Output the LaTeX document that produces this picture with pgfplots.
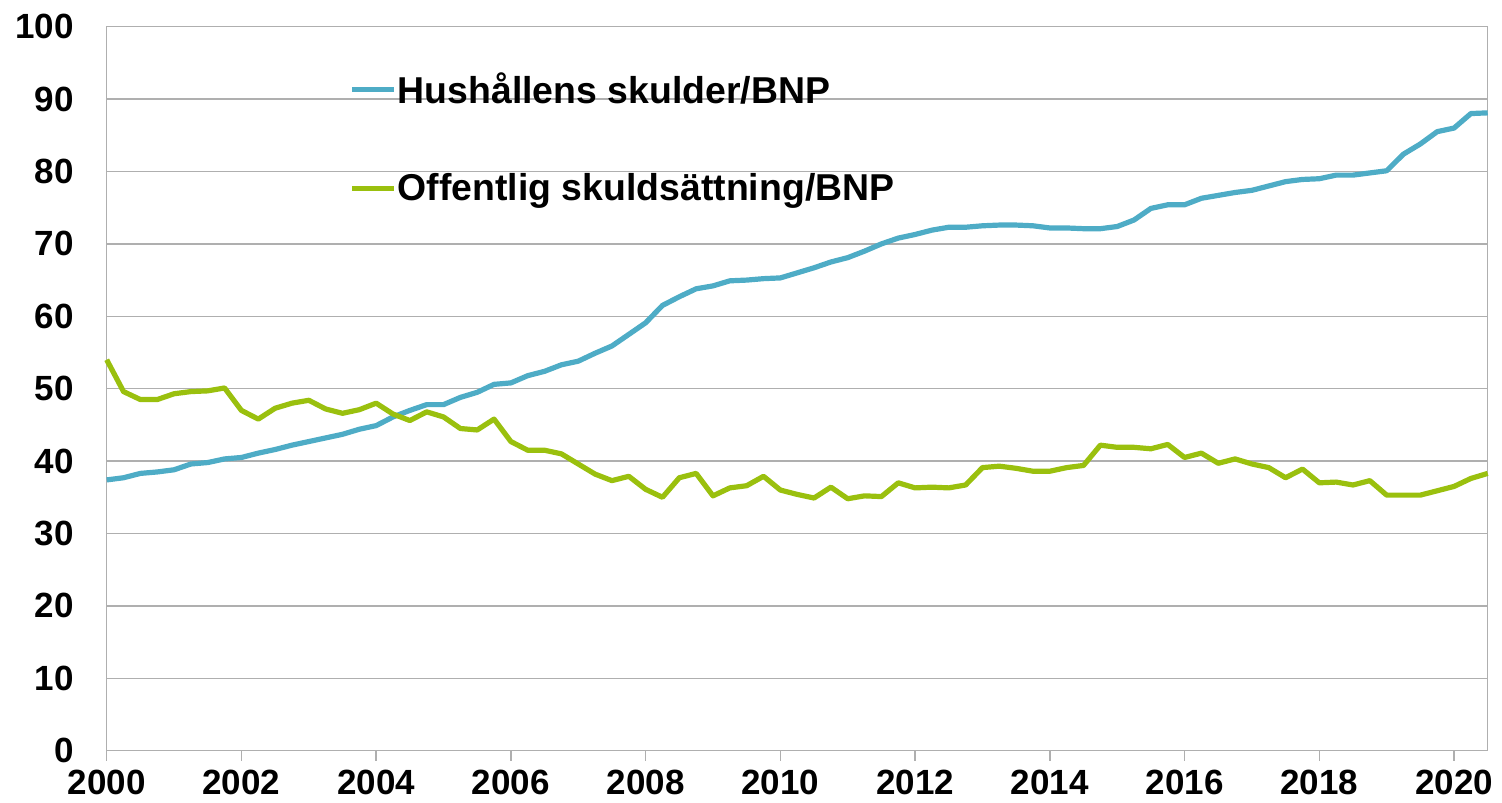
\documentclass[border=0pt]{standalone}
\usepackage{pgfplots}
\pgfplotsset{compat=1.18}
\usepackage{pgfplotstable}
\usepackage{fontspec}
\setmainfont{Liberation Sans}
\definecolor{hhblue}{RGB}{78,172,198}
\definecolor{offgreen}{RGB}{154,192,14}
\definecolor{gridgray}{RGB}{175,175,175}
\pgfplotstableread{
x hh off
2000.00 37.4 54.0
2000.25 37.7 49.6
2000.50 38.3 48.5
2000.75 38.5 48.5
2001.00 38.8 49.3
2001.25 39.6 49.6
2001.50 39.8 49.7
2001.75 40.3 50.1
2002.00 40.5 47.0
2002.25 41.1 45.8
2002.50 41.6 47.3
2002.75 42.2 48.0
2003.00 42.7 48.4
2003.25 43.2 47.2
2003.50 43.7 46.6
2003.75 44.4 47.1
2004.00 44.9 48.0
2004.25 46.1 46.5
2004.50 47.0 45.6
2004.75 47.8 46.8
2005.00 47.8 46.1
2005.25 48.8 44.5
2005.50 49.5 44.3
2005.75 50.6 45.8
2006.00 50.8 42.7
2006.25 51.8 41.5
2006.50 52.4 41.5
2006.75 53.3 41.0
2007.00 53.8 39.6
2007.25 54.9 38.2
2007.50 55.9 37.3
2007.75 57.5 37.9
2008.00 59.1 36.1
2008.25 61.5 35.0
2008.50 62.7 37.7
2008.75 63.8 38.3
2009.00 64.2 35.2
2009.25 64.9 36.3
2009.50 65.0 36.6
2009.75 65.2 37.9
2010.00 65.3 36.0
2010.25 66.0 35.4
2010.50 66.7 34.9
2010.75 67.5 36.4
2011.00 68.1 34.8
2011.25 69.0 35.2
2011.50 70.0 35.1
2011.75 70.8 37.0
2012.00 71.3 36.3
2012.25 71.9 36.4
2012.50 72.3 36.3
2012.75 72.3 36.7
2013.00 72.5 39.1
2013.25 72.6 39.3
2013.50 72.6 39.0
2013.75 72.5 38.6
2014.00 72.2 38.6
2014.25 72.2 39.1
2014.50 72.1 39.4
2014.75 72.1 42.2
2015.00 72.4 41.9
2015.25 73.3 41.9
2015.50 74.9 41.7
2015.75 75.4 42.3
2016.00 75.4 40.5
2016.25 76.3 41.1
2016.50 76.7 39.7
2016.75 77.1 40.3
2017.00 77.4 39.6
2017.25 78.0 39.1
2017.50 78.6 37.7
2017.75 78.9 38.9
2018.00 79.0 37.0
2018.25 79.5 37.1
2018.50 79.5 36.7
2018.75 79.8 37.3
2019.00 80.1 35.3
2019.25 82.4 35.3
2019.50 83.8 35.3
2019.75 85.5 35.9
2020.00 86.0 36.5
2020.25 88.0 37.6
2020.50 88.1 38.3
}\datatable
\begin{document}
\begin{tikzpicture}
\begin{axis}[
  scale only axis,
  width=690.5pt, height=362pt,
  at={(0,0)}, anchor=south west,
  xmin=2000, xmax=2020.5,
  ymin=0, ymax=100,
  xtick={2000,2002,...,2020},
  ytick={0,10,...,100},
  /pgf/number format/1000 sep={},
  /pgf/number format/assume math mode=true,
  ticklabel style={font=\bfseries\fontsize{17.5}{20}\selectfont},
  yticklabel style={xshift=-8pt},
  xticklabel style={yshift=-1pt},
  axis line style={draw=gridgray, line width=0.75pt},
  ymajorgrids,
  grid style={draw=gridgray, line width=0.75pt},
  xtick style={draw=gridgray, line width=0.75pt},
  ytick style={draw=none},
  tick align=outside,
  major tick length=5pt,
  xtick pos=bottom,
  clip=false,
  legend cell align=left,
  legend style={at={(axis cs:2003.6,94.2)}, anchor=north west, draw=none, fill=none,
    font=\bfseries\fontsize{18.7}{21}\selectfont, row sep=29.5pt, inner sep=0pt,
    nodes={inner xsep=0.6pt}},
  legend image code/.code={\draw[#1, line width=2.5pt] (0pt,0pt) -- (21pt,0pt);},
]
\addplot[hhblue, line width=2.6pt, line join=round] table[x=x, y=hh] {\datatable};
\addlegendentry{Hushållens skulder/BNP}
\addplot[offgreen, line width=2.6pt, line join=round] table[x=x, y=off] {\datatable};
\addlegendentry{Offentlig skuldsättning/BNP}
\end{axis}
\pgfresetboundingbox
\useasboundingbox (-53.35pt,-25.65pt) rectangle (697.65pt,375.35pt);
\end{tikzpicture}
\end{document}
